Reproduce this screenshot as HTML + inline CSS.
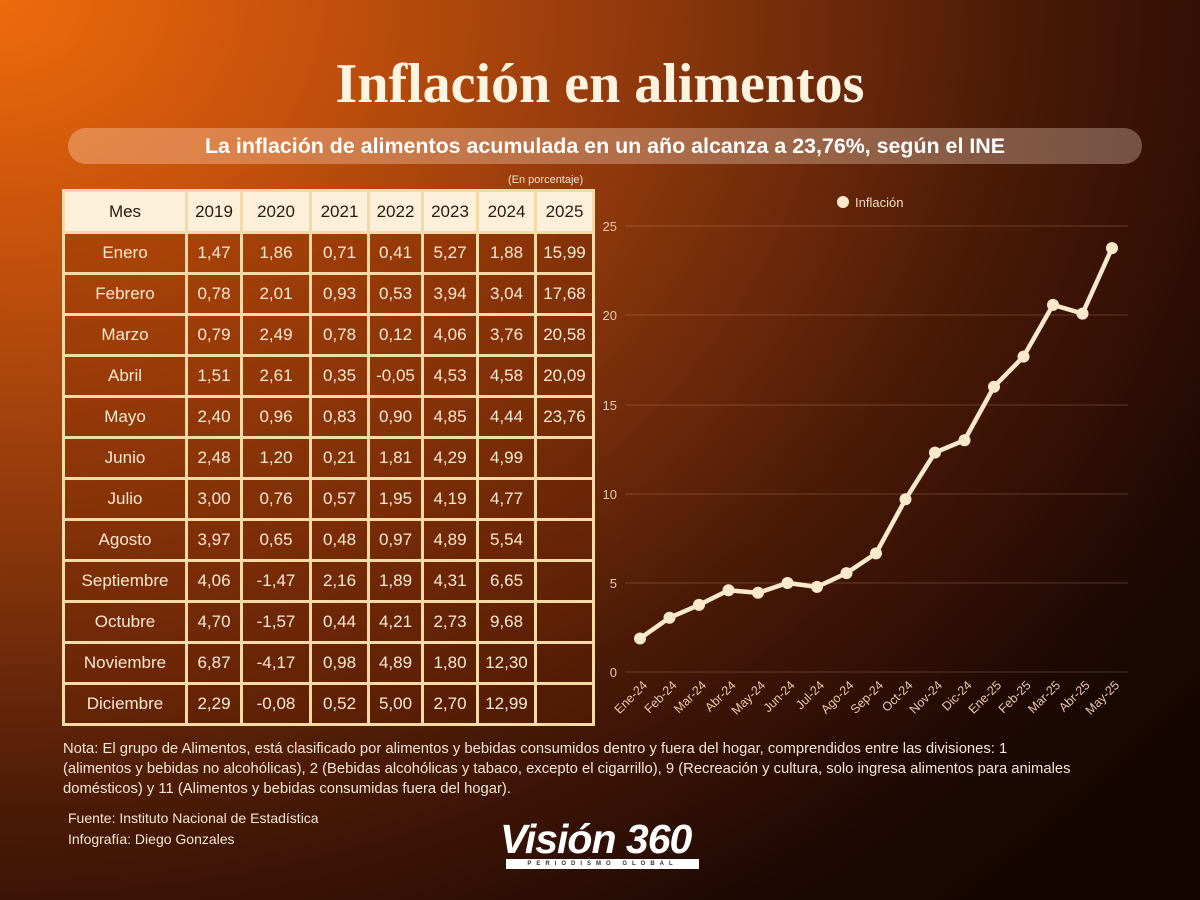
<!DOCTYPE html>
<html><head><meta charset="utf-8"><style>
*{margin:0;padding:0;box-sizing:border-box}
body{width:1200px;height:900px;overflow:hidden;font-family:"Liberation Sans",sans-serif;
background:radial-gradient(ellipse 1500px 1200px at 0px 0px,#f06a0c 0%,#c2500c 22%,#8a360c 45%,#4a1a07 68%,#1e0803 90%,#150602 100%);position:relative;color:#fff}
.title{position:absolute;top:52px;left:0;width:1200px;text-align:center;font-family:"Liberation Serif",serif;font-weight:bold;font-size:56px;color:#fff4e0}
.sub{position:absolute;left:68px;top:128px;width:1074px;height:36px;border-radius:18px;background:linear-gradient(90deg,rgba(255,220,190,.35),rgba(255,230,210,.3));text-align:center;line-height:36px;font-weight:bold;font-size:21.4px;color:#fff}
.pct{position:absolute;left:508px;top:174px;font-size:11px;color:#f3e2cc}
table{position:absolute;left:62px;top:189px;border-collapse:collapse}
td{border:3px solid #f5d9a6;height:41px;text-align:center;font-size:17px;color:#fbe9d2;background:rgba(110,35,0,.28)}
tr.h td{background:#fdf0da;color:#2a1a10;height:42px}
.note{position:absolute;left:63px;top:739px;white-space:nowrap;font-size:14.8px;line-height:20px;color:#f6e6d6}
.src{position:absolute;left:68px;top:808px;font-size:14px;line-height:21px;color:#f6e6d6}
.logo{position:absolute;left:500px;top:816px;font-weight:bold;font-style:italic;font-size:41px;color:#fff;letter-spacing:-1px}
.logo2{position:absolute;left:506px;top:859px;width:193px;height:10px;background:#fff;color:#333;font-size:6px;line-height:10px;text-align:center;letter-spacing:5px;font-weight:bold;white-space:nowrap;overflow:hidden}
</style></head><body>
<div class="title">Inflación en alimentos</div>
<div class="sub">La inflación de alimentos acumulada en un año alcanza a 23,76%, según el INE</div>
<div class="pct">(En porcentaje)</div>
<table>
<colgroup><col style="width:123px"><col style="width:55px"><col style="width:69px"><col style="width:58px"><col style="width:54px"><col style="width:55px"><col style="width:58px"><col style="width:58px"></colgroup>
<tr class="h"><td>Mes</td><td>2019</td><td>2020</td><td>2021</td><td>2022</td><td>2023</td><td>2024</td><td>2025</td></tr>
<tr><td>Enero</td><td>1,47</td><td>1,86</td><td>0,71</td><td>0,41</td><td>5,27</td><td>1,88</td><td>15,99</td></tr>
<tr><td>Febrero</td><td>0,78</td><td>2,01</td><td>0,93</td><td>0,53</td><td>3,94</td><td>3,04</td><td>17,68</td></tr>
<tr><td>Marzo</td><td>0,79</td><td>2,49</td><td>0,78</td><td>0,12</td><td>4,06</td><td>3,76</td><td>20,58</td></tr>
<tr><td>Abril</td><td>1,51</td><td>2,61</td><td>0,35</td><td>-0,05</td><td>4,53</td><td>4,58</td><td>20,09</td></tr>
<tr><td>Mayo</td><td>2,40</td><td>0,96</td><td>0,83</td><td>0,90</td><td>4,85</td><td>4,44</td><td>23,76</td></tr>
<tr><td>Junio</td><td>2,48</td><td>1,20</td><td>0,21</td><td>1,81</td><td>4,29</td><td>4,99</td><td></td></tr>
<tr><td>Julio</td><td>3,00</td><td>0,76</td><td>0,57</td><td>1,95</td><td>4,19</td><td>4,77</td><td></td></tr>
<tr><td>Agosto</td><td>3,97</td><td>0,65</td><td>0,48</td><td>0,97</td><td>4,89</td><td>5,54</td><td></td></tr>
<tr><td>Septiembre</td><td>4,06</td><td>-1,47</td><td>2,16</td><td>1,89</td><td>4,31</td><td>6,65</td><td></td></tr>
<tr><td>Octubre</td><td>4,70</td><td>-1,57</td><td>0,44</td><td>4,21</td><td>2,73</td><td>9,68</td><td></td></tr>
<tr><td>Noviembre</td><td>6,87</td><td>-4,17</td><td>0,98</td><td>4,89</td><td>1,80</td><td>12,30</td><td></td></tr>
<tr><td>Diciembre</td><td>2,29</td><td>-0,08</td><td>0,52</td><td>5,00</td><td>2,70</td><td>12,99</td><td></td></tr>
</table>
<svg style="position:absolute;left:0;top:0" width="1200" height="900">
<g stroke="rgba(255,200,160,0.15)" stroke-width="1.5">
<line x1="625" x2="1128" y1="672" y2="672"/><line x1="625" x2="1128" y1="583" y2="583"/><line x1="625" x2="1128" y1="494" y2="494"/><line x1="625" x2="1128" y1="405" y2="405"/><line x1="625" x2="1128" y1="315" y2="315"/><line x1="625" x2="1128" y1="226" y2="226"/></g>
<g fill="#e8c8aa" font-size="13" font-family="Liberation Sans,sans-serif" text-anchor="end">
<text x="617" y="677">0</text><text x="617" y="588">5</text><text x="617" y="499">10</text><text x="617" y="410">15</text><text x="617" y="320">20</text><text x="617" y="231">25</text></g>
<circle cx="843" cy="202" r="6" fill="#fbe9cc"/><text x="855" y="207" fill="#f0dcc6" font-size="13">Inflación</text>
<g id="pts"></g>
<g fill="#e8c8aa" font-size="12.5" id="xl"></g>
</svg>
<div class="note">Nota: El grupo de Alimentos, está clasificado por alimentos y bebidas consumidos dentro y fuera del hogar, comprendidos entre las divisiones: 1<br>(alimentos y bebidas no alcohólicas), 2 (Bebidas alcohólicas y tabaco, excepto el cigarrillo), 9 (Recreación y cultura, solo ingresa alimentos para animales<br>domésticos) y 11 (Alimentos y bebidas consumidas fuera del hogar).</div>
<div class="src">Fuente: Instituto Nacional de Estadística<br>Infografía: Diego Gonzales</div>
<div class="logo">Visión 360</div>
<div class="logo2">PERIODISMO GLOBAL</div>
<script>
var d=[1.88,3.04,3.76,4.58,4.44,4.99,4.77,5.54,6.65,9.68,12.30,12.99,15.99,17.68,20.58,20.09,23.76];
var l=["Ene-24","Feb-24","Mar-24","Abr-24","May-24","Jun-24","Jul-24","Ago-24","Sep-24","Oct-24","Nov-24","Dic-24","Ene-25","Feb-25","Mar-25","Abr-25","May-25"];
var ns="http://www.w3.org/2000/svg",g=document.getElementById("pts"),xl=document.getElementById("xl"),p="";
d.forEach(function(v,i){var x=640+i*29.5,y=672-v*17.84;p+=(i?"L":"M")+x+","+y;
var c=document.createElementNS(ns,"circle");c.setAttribute("cx",x);c.setAttribute("cy",y);c.setAttribute("r",6);c.setAttribute("fill","#fbe9cc");g.appendChild(c);
var t=document.createElementNS(ns,"text");t.setAttribute("text-anchor","end");t.setAttribute("transform","translate("+(x+8)+",686) rotate(-45)");t.textContent=l[i];xl.appendChild(t);});
var pa=document.createElementNS(ns,"path");pa.setAttribute("d",p);pa.setAttribute("stroke","#fbe9cc");pa.setAttribute("stroke-width","4.5");pa.setAttribute("fill","none");g.insertBefore(pa,g.firstChild);
</script>
</body></html>
